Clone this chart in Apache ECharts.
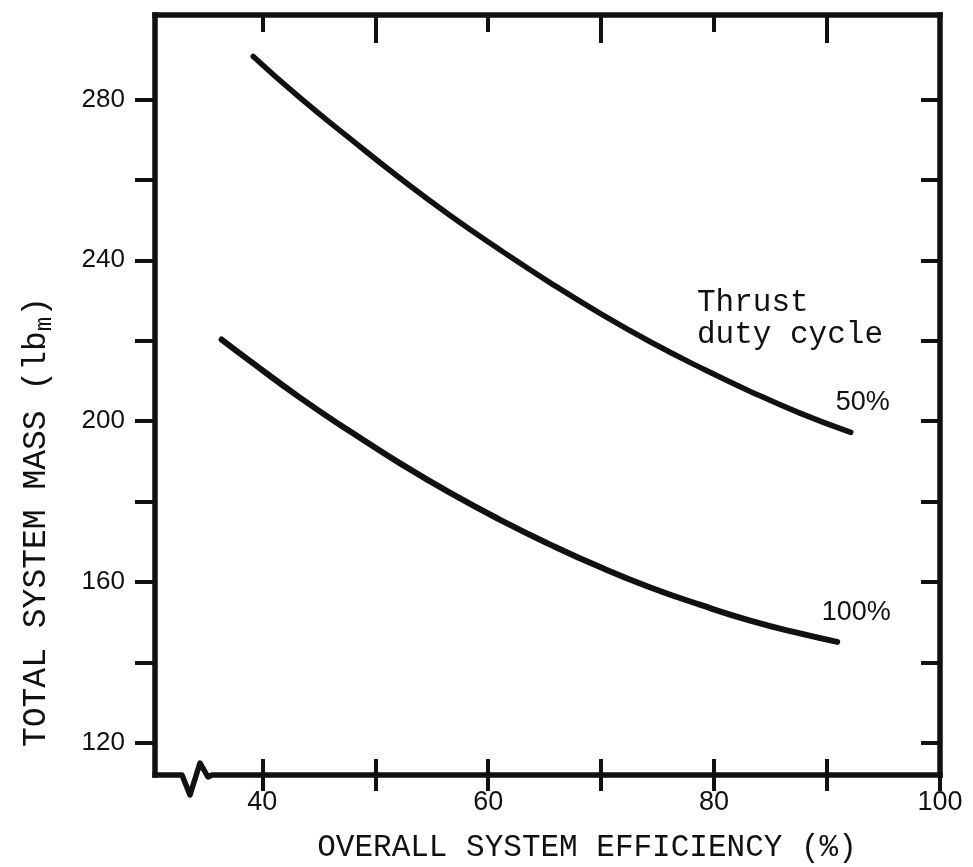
<!DOCTYPE html>
<html><head><meta charset="utf-8">
<script src="https://cdn.jsdelivr.net/npm/echarts@6/dist/echarts.min.js"></script>
<style>html,body{margin:0;padding:0;background:#fff}#c{width:973px;height:867px}</style>
</head><body><div id="c"></div>
<script>
const xTicks = [40, 50, 60, 70, 80, 90, 100];
const xLabels = [40, 60, 80, 100];
const xTopEven = [40, 60, 80];
const xTopOdd = [50, 70, 90];
const yTicks = [120, 140, 160, 180, 200, 220, 240, 260, 280];
const yLabels = [120, 160, 200, 240, 280];

const eff50 = [39.2, 43.3, 47.8, 52.2, 56.6, 61.1, 65.5, 69.9, 74.3, 78.8, 83.2, 87.6, 92.1];
const mass50 = [290.7, 280.5, 270.2, 260.4, 251.2, 242.5, 234.4, 226.8, 219.8, 213.3, 207.4, 202.0, 197.2];
const eff100 = [36.4, 38.9, 43.3, 47.8, 52.2, 56.6, 61.1, 65.5, 69.9, 74.3, 78.8, 83.2, 87.6, 90.9];
const mass100 = [220.3, 215.0, 205.9, 197.4, 189.5, 182.2, 175.4, 169.3, 163.7, 158.7, 154.3, 150.4, 147.2, 145.1];
const seriesNames = ['50%', '100%'];

const INK = '#111';
const MONO = '"Liberation Mono", "DejaVu Sans Mono", monospace';
const SANS = '"Liberation Sans", Arial, sans-serif';

const chart = echarts.init(document.getElementById('c'), null, {renderer: 'canvas'});

function zip(a, b) { return a.map((v, i) => [v, b[i]]); }

const frameLine = {show: true, lineStyle: {color: INK, width: 5.5, cap: 'square'}};
const noLabel = {show: false};

chart.setOption({
  animation: false,
  backgroundColor: '#fff',
  grid: {left: 155, right: 33, top: 15, bottom: 92, containLabel: false},
  xAxis: [
    {type: 'value', position: 'bottom', min: 30.5, max: 100, axisLine: {show: false},
     axisTick: {show: true, inside: false, length: 16, customValues: xTicks, lineStyle: {color: INK, width: 4}},
     axisLabel: {show: true, customValues: xLabels, margin: 14, fontSize: 27, fontFamily: SANS, color: INK},
     splitLine: {show: false}},
    {type: 'value', position: 'bottom', min: 30.5, max: 100, axisLine: {show: false},
     axisTick: {show: true, inside: true, length: 16, customValues: xTicks, lineStyle: {color: INK, width: 4}},
     axisLabel: noLabel, splitLine: {show: false}},
    {type: 'value', position: 'top', min: 30.5, max: 100, axisLine: frameLine,
     axisTick: {show: true, inside: true, length: 17, customValues: xTopEven, lineStyle: {color: INK, width: 4}},
     axisLabel: noLabel, splitLine: {show: false}},
    {type: 'value', position: 'top', min: 30.5, max: 100, axisLine: {show: false},
     axisTick: {show: true, inside: true, length: 28, customValues: xTopOdd, lineStyle: {color: INK, width: 4}},
     axisLabel: noLabel, splitLine: {show: false}}
  ],
  yAxis: [
    {type: 'value', position: 'left', min: 112, max: 301, axisLine: frameLine,
     axisTick: {show: true, inside: false, length: 20, customValues: yTicks, lineStyle: {color: INK, width: 4}},
     axisLabel: {show: true, customValues: yLabels, margin: 30, fontSize: 26, fontFamily: SANS, color: INK},
     splitLine: {show: false}},
    {type: 'value', position: 'right', min: 112, max: 301, axisLine: frameLine,
     axisTick: {show: true, inside: true, length: 19, customValues: yTicks, lineStyle: {color: INK, width: 4}},
     axisLabel: noLabel, splitLine: {show: false}}
  ],
  series: [
    {name: seriesNames[0], type: 'line', data: zip(eff50, mass50), smooth: true, symbol: 'none',
     lineStyle: {color: INK, width: 5.5, cap: 'round'}},
    {name: seriesNames[1], type: 'line', data: zip(eff100, mass100), smooth: true, symbol: 'none',
     lineStyle: {color: INK, width: 6, cap: 'round'}}
  ]
});

const end50 = chart.convertToPixel({xAxisIndex: 0, yAxisIndex: 0}, [eff50[eff50.length - 1], mass50[mass50.length - 1]]);
const end100 = chart.convertToPixel({xAxisIndex: 0, yAxisIndex: 0}, [eff100[eff100.length - 1], mass100[mass100.length - 1]]);
const L = chart.convertToPixel({xAxisIndex: 0}, 30.5);
const R = chart.convertToPixel({xAxisIndex: 0}, 100);
const B = chart.convertToPixel({yAxisIndex: 0}, 112);

chart.setOption({
  graphic: [
    {type: 'polyline', z: 10, shape: {points: [[L, B], [L + 27, B], [L + 35, B + 20], [L + 45, B - 12], [L + 53, B + 2], [L + 57, B], [R, B]]},
     style: {stroke: INK, lineWidth: 5.5, fill: null, lineJoin: 'round', lineCap: 'square'}},
    {type: 'text', x: end50[0] + 12, y: end50[1] - 30, style: {text: seriesNames[0], fill: INK, font: '27px ' + SANS, textAlign: 'center', textVerticalAlign: 'middle'}},
    {type: 'text', x: end100[0] + 19, y: end100[1] - 29, style: {text: seriesNames[1], fill: INK, font: '27px ' + SANS, textAlign: 'center', textVerticalAlign: 'middle'}},
    {type: 'text', x: 697, y: 303, style: {text: 'Thrust', fill: INK, font: '31px ' + MONO, textAlign: 'left', textVerticalAlign: 'middle'}},
    {type: 'text', x: 697, y: 335, style: {text: 'duty cycle', fill: INK, font: '31px ' + MONO, textAlign: 'left', textVerticalAlign: 'middle'}},
    {type: 'text', x: 587, y: 848, style: {text: 'OVERALL SYSTEM EFFICIENCY (%)', fill: INK, font: '31px ' + MONO, textAlign: 'center', textVerticalAlign: 'middle'}},
    {type: 'text', x: 36, y: 522, rotation: Math.PI / 2,
     style: {text: 'TOTAL SYSTEM MASS (lb{s|m})', fill: INK, fontSize: 33, fontFamily: MONO, align: 'center', verticalAlign: 'middle',
       rich: {s: {fontSize: 24, fontFamily: MONO, fill: INK, padding: [18, 0, 0, 0]}}}}
  ]
});
</script>
</body></html>
